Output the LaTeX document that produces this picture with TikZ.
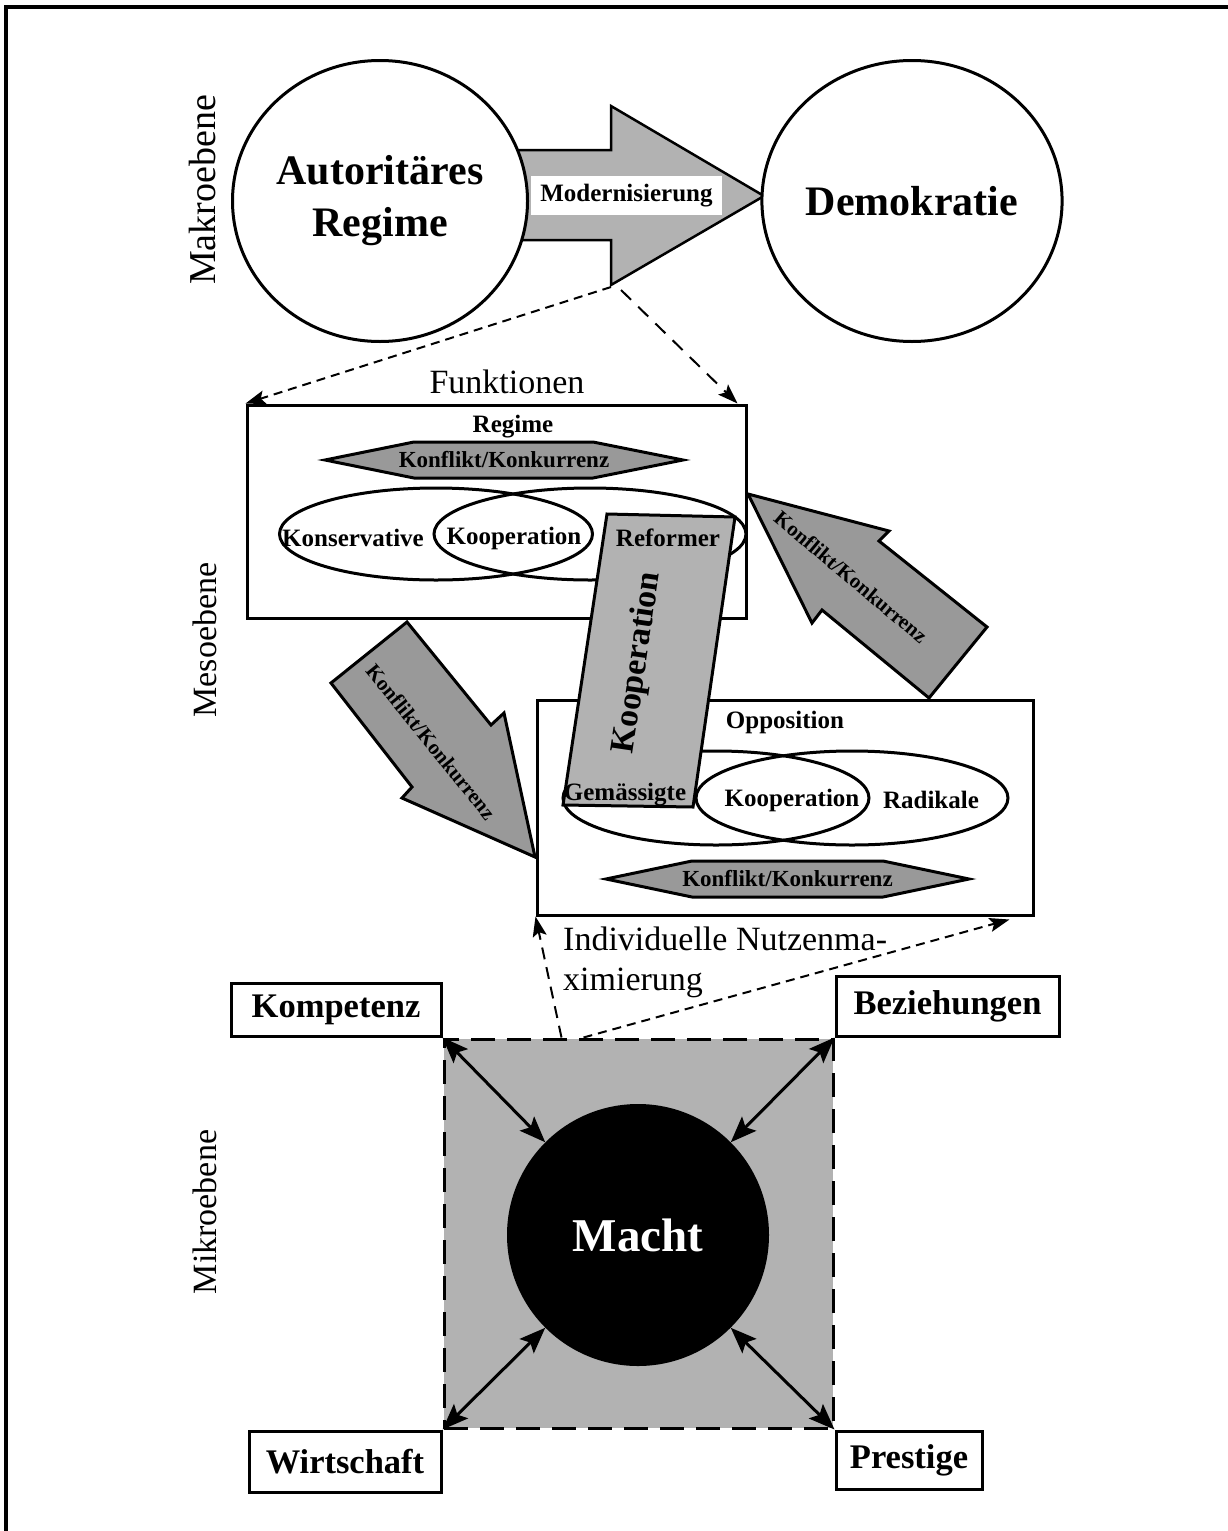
\documentclass[tikz,border=0pt]{standalone}
\usepackage{fontspec}
\setmainfont{Liberation Serif}
\usepackage{tikz}
\usetikzlibrary{shapes.geometric,arrows.meta}
\newcommand{\HG}[0]{black!30}
\newcommand{\DG}[0]{black!40}
\newcommand{\Gr}[2]{\fontsize{#1}{#2}\selectfont}

\begin{document}
\begin{tikzpicture}[x=1pt, y=-1pt,
  kasten/.style={draw, line width=3pt, fill=white, inner sep=0pt},
  oval/.style={draw, line width=3pt, ellipse, inner sep=0pt},
  titel/.style={font=\bfseries\Gr{25pt}{30pt}},
  ebene/.style={rotate=90, font=\Gr{34pt}{40pt}},
  gestrichelt/.style={line width=2pt, dash pattern=on 9pt off 6pt,
    -{Stealth[length=20pt,width=14pt,inset=4pt]}},
  doppelpfeil/.style={line width=3pt,
    {Stealth[length=26pt,width=20pt,inset=5pt]}-{Stealth[length=26pt,width=20pt,inset=5pt]}},
  fettpfeil/.style={draw, line width=3pt, fill=\DG},
  sechseck/.style={draw, line width=3pt, fill=\DG}]

  \newcommand\LW{3pt}
  \newcommand\SK{\bfseries\Gr{34.5pt}{40pt}}

  \useasboundingbox (0,0) rectangle (1227,1531);

  \draw[line width=3.5pt] (6,1560) -- (6,7) -- (1260,7); %% Rahmen

  \node[ebene, font=\Gr{38pt}{44pt}] (makro) at (202,190) {Makroebene};
  \node[ebene] (meso) at (205,640) {Mesoebene};
  \node[ebene] (mikro) at (205,1212) {Mikroebene};

  %% Makroebene
  \draw[fill=\HG, line width=2.5pt] (505,150) -- (611,150) -- (611,106) --
  (764,196) -- (611,285) -- (611,240) -- (505,240) -- cycle; %% Modernisierung
  \coordinate (modL) at (611,287);
  \coordinate (modR) at (621,290);

  \node[fill=white, minimum width=191pt, minimum height=39pt, inner sep=0pt,
  titel] (modern) at (626.5,195.5) {Modernisierung};
  \node[oval, fill=white, minimum width=295pt, minimum height=281pt,
  align=center, font=\bfseries\Gr{42pt}{52pt}] (autoritaer) at (380,201)
  {Autoritäres\\Regime};
  \node[oval, fill=white, minimum width=296pt, minimum height=281pt,
  font=\bfseries\Gr{42pt}{52pt}] (demokratie) at (912,201) {Demokratie};

  %% Mesoebene: Regime
  \node[kasten, minimum width=499pt, minimum height=213pt] (regime)
  at (496.5,511.5) {};
  \node[font=\Gr{34pt}{40pt}] (funktionen) at (507,382) {Funktionen};
  \draw[gestrichelt] (modL) -- (regime.north west);
  \draw[gestrichelt, dash pattern=on 14pt off 10pt] (modR) --
  ([xshift=-10pt]regime.north east);

  \node[titel] (regtitel) at (513,427) {Regime};
  \draw[sechseck] (504,460) +(-179,0) -- +(-90,-18) -- +(89,-18) --
  +(179,0) -- +(89,18) -- +(-90,18) -- cycle;
  \node[titel, font=\bfseries\Gr{23pt}{28pt}] (regkonflikt) at (504,460)
  {Konflikt/Konkurrenz};
  \node[oval, minimum width=313pt, minimum height=92pt] (konservativ)
  at (436,534) {};
  \node[oval, minimum width=312pt, minimum height=92pt] (reform)
  at (590,534) {};
  \node[titel] (konstext) at (353,538) {Konservative};
  \node[titel] (regkoop) at (514,538) {Kooperation};

  %% Pfeile Konflikt/Konkurrenz
  \draw[fettpfeil] (407,622) -- (331,683) -- (412,787) -- (402,798) --
  (535,857) -- (504,713) -- (491,725) -- cycle; %% runter
  \node[rotate=-51, font=\bfseries\Gr{21pt}{25pt}] (konfL) at (431,742)
  {Konflikt/Konkurrenz};
  \draw[fettpfeil] (748,494) -- (889,531) -- (879,541) -- (987,627) --
  (929,698) -- (822,610) -- (812,623) -- cycle; %% hoch
  \node[rotate=-40, font=\bfseries\Gr{21pt}{25pt}] (konfR) at (851,577)
  {Konflikt/Konkurrenz};

  %% Mesoebene: Opposition
  \node[kasten, minimum width=496pt, minimum height=215pt] (opposition)
  at (785,807.5) {};
  \node[titel] (opptitel) at (785,722) {Opposition};
  \node[oval, minimum width=306pt, minimum height=94pt] (gemaessigt)
  at (716,798) {};
  \node[oval, minimum width=312pt, minimum height=94pt] (radikal)
  at (852,798) {};
  \node[titel] (oppkoop) at (792,800) {Kooperation};
  \node[titel] (radtext) at (931,800) {Radikale};
  \draw[sechseck] (787.5,879) +(-181.5,0) -- +(-95.5,-18) -- +(95.5,-18) --
  +(181.5,0) -- +(95.5,18) -- +(-95.5,18) -- cycle;
  \node[titel, font=\bfseries\Gr{23pt}{28pt}] (oppkonflikt) at (787.5,879)
  {Konflikt/Konkurrenz};

  %% Kooperation zwischen Reformern und Gemaessigten
  \draw[fill=\HG, line width=\LW] (607,514) -- (735,517) -- (693,807) --
  (563,805) -- cycle;
  \node[rotate=81.6, font=\bfseries\Gr{34pt}{40pt}] (koop) at (638,663)
  {Kooperation};
  \node[titel] (reftext) at (668,538) {Reformer};
  \node[titel] (gemtext) at (625,795) {Gemässigte};

  %% Mikroebene
  \node[draw, line width=\LW, dash pattern=on 24pt off 12pt, fill=\HG,
  minimum width=389pt, minimum height=389pt, inner sep=0pt] (feld)
  at (638.5,1233.5) {};
  \node[circle, fill=black, minimum size=262pt, text=white,
  font=\bfseries\Gr{47pt}{56pt}] (macht) at (638,1235) {Macht};

  \node[kasten, anchor=south east, minimum width=210pt, minimum height=53pt,
  font=\SK] (kompetenz) at (feld.north west) {Kompetenz};
  \node[kasten, anchor=south west, minimum width=223pt, minimum height=60pt,
  font=\SK] (beziehungen) at (feld.north east) {Beziehungen};
  \node[kasten, anchor=north east, minimum width=192pt, minimum height=61pt,
  font=\SK] (wirtschaft) at (feld.south west) {Wirtschaft};
  \node[kasten, anchor=north west, minimum width=146pt, minimum height=58pt,
  font=\SK] (prestige) at (feld.south east) {Prestige};

  \draw[doppelpfeil] (feld.north west) -- (macht.135);
  \draw[doppelpfeil] (feld.north east) -- (macht.45);
  \draw[doppelpfeil] (feld.south west) -- (macht.225);
  \draw[doppelpfeil] (feld.south east) -- (macht.-45);

  \node[anchor=north west, align=left, inner sep=0pt, font=\Gr{34pt}{40pt}]
  (nutzen) at (563,927) {Individuelle Nutzenma-\\ximierung};
  \draw[gestrichelt, dash pattern=on 12pt off 8pt] ([xshift=-77pt]feld.north)
  -- (opposition.south west);
  \draw[gestrichelt] ([xshift=-55pt]feld.north) --
  ([xshift=-25pt,yshift=-3pt]opposition.south east);

\end{tikzpicture}
\end{document}
